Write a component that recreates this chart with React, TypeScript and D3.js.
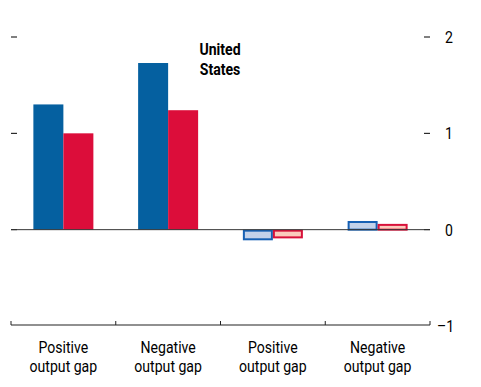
import { useRef, useEffect } from 'react';
import * as d3 from 'd3';

const CATEGORIES = ['Positive output gap', 'Negative output gap', 'Positive output gap', 'Negative output gap'];
const SERIES_A = [1.3, 1.73, -0.1, 0.09];
const SERIES_B = [1.0, 1.24, -0.08, 0.06];
const Y_TICKS = [-1, 0, 1, 2];

const FONT = '"Liberation Sans Narrow", "Arial Narrow", Roboto, sans-serif';

export default function App() {
  const svgRef = useRef<SVGSVGElement>(null);
  const width = 481;
  const height = 387;

  useEffect(() => {
    if (!svgRef.current) return;
    const svg = d3.select(svgRef.current);
    svg.selectAll('*').remove();

    const left = 11;
    const right = 430;

    const x = d3
      .scaleBand<number>()
      .domain(CATEGORIES.map((_, i) => i))
      .range([left, right])
      .padding(0);

    const y = d3.scaleLinear().domain([-1, 2]).range([326, 37]);

    const barW = 30;
    const off = (x.bandwidth() - barW * 2) / 2;

    // narrow text helper
    const label = (tx: number, ty: number, s: string, anchor: string, bold = false) =>
      svg.append('text')
        .attr('transform', `translate(${tx},${ty}) scale(0.88,1)`)
        .attr('text-anchor', anchor)
        .attr('font-family', FONT)
        .attr('font-weight', bold ? 'bold' : 'normal')
        .attr('font-size', 16)
        .attr('fill', '#000')
        .text(s);

    // y ticks, left and right
    Y_TICKS.forEach((t) => {
      if (t === -1) return;
      svg.append('line').attr('x1', left).attr('x2', left + 6)
        .attr('y1', y(t)).attr('y2', y(t)).attr('stroke', '#000').attr('stroke-width', 1);
      svg.append('line').attr('x1', right - 6).attr('x2', right)
        .attr('y1', y(t)).attr('y2', y(t)).attr('stroke', '#000').attr('stroke-width', 1);
    });

    Y_TICKS.forEach((t) => {
      label(t < 0 ? 437 : 445, y(t) + 6, t < 0 ? `\u2013${Math.abs(t)}` : `${t}`, 'start');
    });

    const bars = svg.append('g');
    CATEGORIES.forEach((_, i) => {
      const vals = [SERIES_A[i], SERIES_B[i]];
      vals.forEach((v, j) => {
        const small = Math.abs(v) < 0.3;
        const blue = j === 0;
        const x0 = (x(i) as number) + off + j * barW;
        const y0 = Math.min(y(v), y(0));
        const h = Math.abs(y(v) - y(0));
        if (small) {
          bars.append('rect')
            .attr('x', x0 + 1).attr('y', y0 + 1)
            .attr('width', barW - 2).attr('height', Math.max(h - 1, 1))
            .attr('fill', blue ? '#c3d2ea' : '#fbcbbc')
            .attr('stroke', blue ? '#1660b4' : '#d8103a')
            .attr('stroke-width', 2);
        } else {
          bars.append('rect')
            .attr('x', x0).attr('y', y0)
            .attr('width', barW).attr('height', h)
            .attr('fill', blue ? '#0560a0' : '#dc0d3a');
        }
      });
    });

    // zero line
    svg.append('line').attr('x1', left).attr('x2', right)
      .attr('y1', y(0)).attr('y2', y(0)).attr('stroke', '#333').attr('stroke-width', 1);

    // bottom axis
    const by = 325;
    svg.append('line').attr('x1', left).attr('x2', right)
      .attr('y1', by).attr('y2', by).attr('stroke', '#222').attr('stroke-width', 1.2);
    const edges = CATEGORIES.map((_, i) => x(i) as number).concat([right]);
    edges.forEach((e) => {
      svg.append('line').attr('x1', e).attr('x2', e)
        .attr('y1', by - 4).attr('y2', by).attr('stroke', '#222').attr('stroke-width', 1);
    });

    CATEGORIES.forEach((c, i) => {
      const cx = (x(i) as number) + x.bandwidth() / 2;
      const parts = c.split(' ');
      const lines = [parts[0], parts.slice(1).join(' ')];
      lines.forEach((l, k) => label(cx, 353 + k * 19, l, 'middle'));
    });

    // title
    ['United', 'States'].forEach((l, k) => label(220, 55 + k * 20, l, 'middle', true));
  }, []);

  return (
    <svg
      ref={svgRef}
      width={width}
      height={height}
      style={{ position: 'absolute', left: 0, top: 0, background: '#fff' }}
    />
  );
}
